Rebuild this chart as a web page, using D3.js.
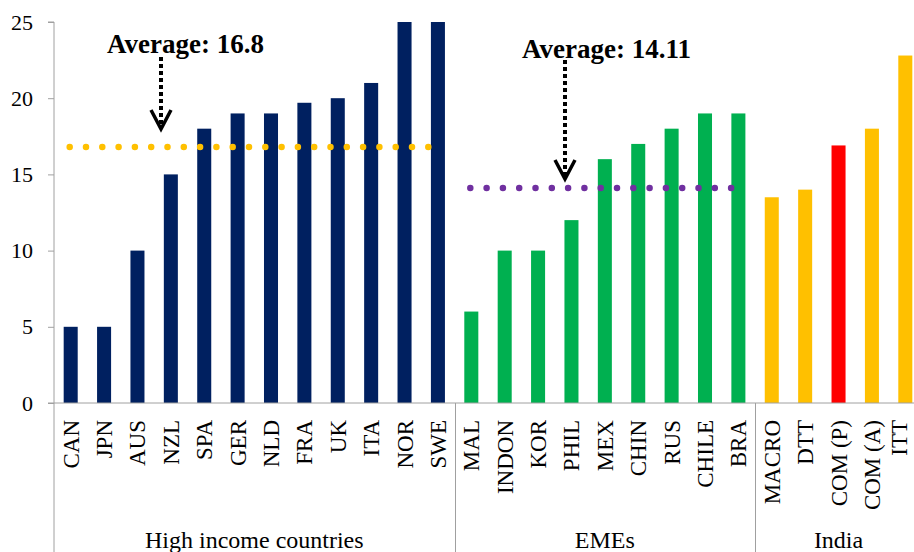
<!DOCTYPE html>
<html>
<head>
<meta charset="utf-8">
<script src="https://cdn.jsdelivr.net/npm/d3@7"></script>
<style>
  body { margin:0; background:#fff; }
  svg text { font-family:"Liberation Serif","Times New Roman",serif; }
</style>
</head>
<body>
<div id="chart"></div>
<script>
// data
const groups = ["High income countries", "EMEs", "India"];
const highIncome = ["CAN","JPN","AUS","NZL","SPA","GER","NLD","FRA","UK","ITA","NOR","SWE"];
const highIncomeValues = [5,5,10,15,18,19,19,19.7,20,21,25,25];
const emes = ["MAL","INDON","KOR","PHIL","MEX","CHIN","RUS","CHILE","BRA"];
const emesValues = [6,10,10,12,16,17,18,19,19];
const india = ["MACRO","DTT","COM (P)","COM (A)","ITT"];
const indiaValues = [13.5,14,16.9,18,22.8];
const averages = [16.8, 14.11];
const yTicks = [0,5,10,15,20,25];

const width = 914, height = 552;
const x0 = 54, x1 = 922, yTop = 22, yBottom = 403;

let data = [];
highIncome.forEach((c,i)=>{ data.push({cat:c, v:highIncomeValues[i], g:0, color:"#002060"}); });
emes.forEach((c,i)=>{ data.push({cat:c, v:emesValues[i], g:1, color:"#00B050"}); });
india.forEach((c,i)=>{ data.push({cat:c, v:indiaValues[i], g:2, color:c==="COM (P)" ? "#FF0000" : "#FFC000"}); });

let svg = d3.select("#chart").append("svg")
  .attr("width", width).attr("height", height);

let xScale = d3.scaleBand()
  .domain(data.map(d=>d.cat))
  .range([x0, x1])
  .paddingInner(0.58)
  .paddingOuter(0.29);
let yScale = d3.scaleLinear().domain([0,25]).range([yBottom, yTop]);

const step = xScale.step(), bw = xScale.bandwidth();
const gap = (step - bw) / 2;

// bars
svg.selectAll("rect.bar")
  .data(data)
  .enter()
  .append("rect")
  .attr("class","bar")
  .attr("x", d=>xScale(d.cat))
  .attr("y", d=>yScale(d.v))
  .attr("width", bw)
  .attr("height", d=>yBottom - yScale(d.v))
  .attr("fill", d=>d.color);

// y axis
let yAxis = d3.axisLeft(yScale).tickValues(yTicks).tickSize(6).tickPadding(15);
let yg = svg.append("g").attr("transform","translate("+x0+",0)").call(yAxis);
yg.attr("font-family", null);
yg.select(".domain").attr("stroke","#a0a0a0").attr("d","M-6,"+yTop+"H0V"+height);
yg.selectAll(".tick line").attr("stroke","#a0a0a0");
yg.selectAll(".tick text").attr("font-size",22).attr("fill","#000");

// x axis line
svg.append("line")
  .attr("x1", x0 - 6).attr("x2", width)
  .attr("y1", yBottom).attr("y2", yBottom)
  .attr("stroke","#a0a0a0");

// group separators
const groupStarts = [highIncome[0], emes[0], india[0]];
groupStarts.slice(1).forEach(c=>{
  let gx = Math.round(xScale(c) - gap) + 0.5;
  svg.append("line")
    .attr("x1", gx).attr("x2", gx)
    .attr("y1", yBottom).attr("y2", height)
    .attr("stroke","#a0a0a0");
});

// category labels (last one nudged so it stays inside the frame)
svg.selectAll("text.cat")
  .data(data)
  .enter()
  .append("text")
  .attr("class","cat")
  .attr("transform", d=>"translate("+Math.min(xScale(d.cat)+bw/2+8, width-7)+","+(yBottom+17)+") rotate(-90)")
  .attr("text-anchor","end")
  .attr("font-size",23)
  .text(d=>d.cat);

// group labels
const groupCats = [highIncome, emes, india];
groups.forEach((g,i)=>{
  let cats = groupCats[i];
  let gx0 = xScale(cats[0]) - gap, gx1 = xScale(cats[cats.length-1]) + bw + gap;
  svg.append("text")
    .attr("x", (gx0+gx1)/2)
    .attr("y", 548)
    .attr("text-anchor","middle")
    .attr("font-size",24)
    .text(g);
});

// average dotted lines
const avgLines = [
  {cats: highIncome, v: averages[0], color:"#FFC000"},
  {cats: emes, v: averages[1], color:"#7030A0"}
];
avgLines.forEach(a=>{
  svg.append("line")
    .attr("x1", xScale(a.cats[0]) + bw/2 - 1)
    .attr("x2", xScale(a.cats[a.cats.length-1]) + bw/2)
    .attr("y1", yScale(a.v)).attr("y2", yScale(a.v))
    .attr("stroke", a.color)
    .attr("stroke-width", 6.5)
    .attr("stroke-linecap","round")
    .attr("stroke-dasharray","0 16.3");
});

// annotations
const notes = [
  {text:"Average: "+averages[0], tx:107, ty:53, ax:161, ay0:57, ay1:129},
  {text:"Average: "+averages[1], tx:522, ty:58, ax:565, ay0:60, ay1:179}
];
notes.forEach(n=>{
  svg.append("text")
    .attr("x", n.tx).attr("y", n.ty)
    .attr("font-size",27).attr("font-weight","bold")
    .text(n.text);
  svg.append("line")
    .attr("x1", n.ax).attr("x2", n.ax)
    .attr("y1", n.ay0).attr("y2", n.ay1 - 3)
    .attr("stroke","#000").attr("stroke-width",4)
    .attr("stroke-dasharray","4 3");
  svg.append("path")
    .attr("d","M"+(n.ax-10)+","+(n.ay1-19)+"L"+n.ax+","+n.ay1+"L"+(n.ax+10)+","+(n.ay1-19))
    .attr("fill","none").attr("stroke","#000").attr("stroke-width",3.5);
});
</script>
</body>
</html>
